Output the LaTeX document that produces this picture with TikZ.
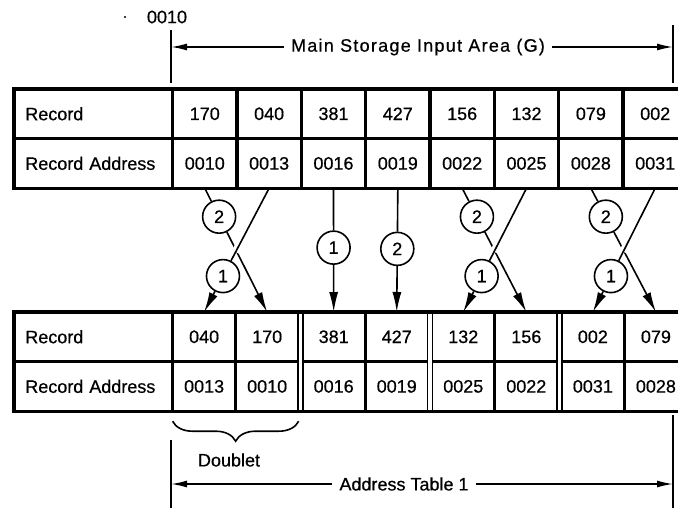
\documentclass[tikz,border=0pt]{standalone}
\usepackage{fontspec}
\setmainfont{Liberation Sans}[FakeBold=0.6]
\usetikzlibrary{positioning,arrows.meta,fit,calc,decorations.pathreplacing}
\tikzset{
  lab/.style={rectangle, draw, line width=0.8pt, text width=68pt, inner xsep=5.25pt,
              inner ysep=0pt, align=left, minimum height=24pt, font=\small},
  cell/.style={rectangle, draw, line width=0.8pt, minimum width=31.375pt,
               minimum height=24pt, inner sep=0pt, font=\small},
  bcell/.style={cell, minimum width=30.72pt},
  frame/.style={rectangle, draw, line width=1.6pt, inner sep=0pt},
  num/.style={circle, draw, line width=0.8pt, minimum size=16.5pt, inner sep=0pt, font=\small},
  flow/.style={-{Latex[length=10pt,width=4.5pt]}, line width=0.8pt},
  over/.style={line width=0.8pt,
               preaction={draw=white, line width=4pt, shorten <=5pt, shorten >=5pt}},
  dim/.style={-{Latex[length=8pt,width=3.5pt]}, line width=0.8pt},
  tick/.style={line width=0.8pt},
  brc/.style={decorate, decoration={brace, amplitude=10pt}, line width=0.8pt}
}

\begin{document}
\begin{tikzpicture}[x=0.5pt, y=-0.5pt]
\useasboundingbox (0,0) rectangle (678,508);
% main storage input area
\node[lab, anchor=north west] (trl) at (14,89) {Record};
\node[cell, right=0pt of trl] (t170) {170};
\node[cell, right=0pt of t170] (t040) {040};
\node[cell, right=0pt of t040] (t381) {381};
\node[cell, right=0pt of t381] (t427) {427};
\node[cell, right=0pt of t427] (t156) {156};
\node[cell, right=0pt of t156] (t132) {132};
\node[cell, right=0pt of t132] (t079) {079};
\node[cell, right=0pt of t079] (t002) {002};
\node[lab, below=0pt of trl] (tal) {Record Address};
\node[cell, below=0pt of t170] (ta170) {0010};
\node[cell, below=0pt of t040] (ta040) {0013};
\node[cell, below=0pt of t381] (ta381) {0016};
\node[cell, below=0pt of t427] (ta427) {0019};
\node[cell, below=0pt of t156] (ta156) {0022};
\node[cell, below=0pt of t132] (ta132) {0025};
\node[cell, below=0pt of t079] (ta079) {0028};
\node[cell, below=0pt of t002] (ta002) {0031};
\node[frame, fit=(trl)(tal)(t002)(ta002)] (tbox) {};

% address table 1
\node[lab, anchor=north west] (brl) at (14,312) {Record};
\node[bcell, right=0pt of brl] (b040) {040};
\node[bcell, right=0pt of b040] (b170) {170};
\node[bcell, right=1.75pt of b170] (b381) {381};
\node[bcell, right=0pt of b381] (b427) {427};
\node[bcell, right=1.75pt of b427] (b132) {132};
\node[bcell, right=0pt of b132] (b156) {156};
\node[bcell, right=1.75pt of b156] (b002) {002};
\node[bcell, right=0pt of b002] (b079) {079};
\node[lab, below=0pt of brl] (bal) {Record Address};
\node[bcell, below=0pt of b040] (ba040) {0013};
\node[bcell, below=0pt of b170] (ba170) {0010};
\node[bcell, below=0pt of b381] (ba381) {0016};
\node[bcell, below=0pt of b427] (ba427) {0019};
\node[bcell, below=0pt of b132] (ba132) {0025};
\node[bcell, below=0pt of b156] (ba156) {0022};
\node[bcell, below=0pt of b002] (ba002) {0031};
\node[bcell, below=0pt of b079] (ba079) {0028};
\node[frame, fit=(brl)(bal)(b079)(ba079)] (bbox) {};

% sort steps
\node[num] (s2a) at ($(ta170.south)!0.23!(b170.north)$) {2};
\node[num] (s1a) at ($(ta040.south)!0.71!(b040.north)$) {1};
\node[num] (s1b) at ($(ta381.south)!0.48!(b381.north)$) {1};
\node[num] (s2b) at ($(ta427.south)!0.49!(b427.north)$) {2};
\node[num] (s2c) at ($(ta156.south)!0.23!(b156.north)$) {2};
\node[num] (s1c) at ($(ta132.south)!0.71!(b132.north)$) {1};
\node[num] (s2d) at ($(ta079.south)!0.23!(b079.north)$) {2};
\node[num] (s1d) at ($(ta002.south)!0.71!(b002.north)$) {1};
\draw[flow] (ta170.south)--(s2a)--(b170.north);
\draw[over] (ta040.south)--(s1a);\draw[flow] (s1a)--(b040.north);
\draw[flow] (ta381.south)--(s1b)--(b381.north);
\draw[flow] (ta427.south)--(s2b)--(b427.north);
\draw[flow] (ta156.south)--(s2c)--(b156.north);
\draw[over] (ta132.south)--(s1c);\draw[flow] (s1c)--(b132.north);
\draw[flow] (ta079.south)--(s2d)--(b079.north);
\draw[over] (ta002.south)--(s1d);\draw[flow] (s1d)--(b002.north);

% dimension lines
\fill (125,17) circle (0.6pt);
\node[font=\small] (a0010) at (167,17) {0010};
\draw[tick] (171,30)--(171,83);\draw[tick] (673,25)--(673,83);
\coordinate (gl) at (171,47);\coordinate (gr) at (673,47);
\node[font=\small\addfontfeature{LetterSpace=7}] (gtxt) at (418,47) {Main Storage Input Area (G)};
\draw[dim] (gtxt)--(gl);\draw[dim] (gtxt)--(gr);
\draw[brc] ([yshift=-5pt]ba170.south east)--([yshift=-5pt]ba040.south west);
\node[font=\small] (dbl) at (229,460) {Doublet};
\draw[tick] (171,440)--(171,508);\draw[tick] (673,415)--(673,508);
\coordinate (al) at (171,484);\coordinate (ar) at (673,484);
\node[font=\small] (atxt) at (404,484) {Address Table 1};
\draw[dim] (atxt)--(al);\draw[dim] (atxt)--(ar);
\end{tikzpicture}
\end{document}
